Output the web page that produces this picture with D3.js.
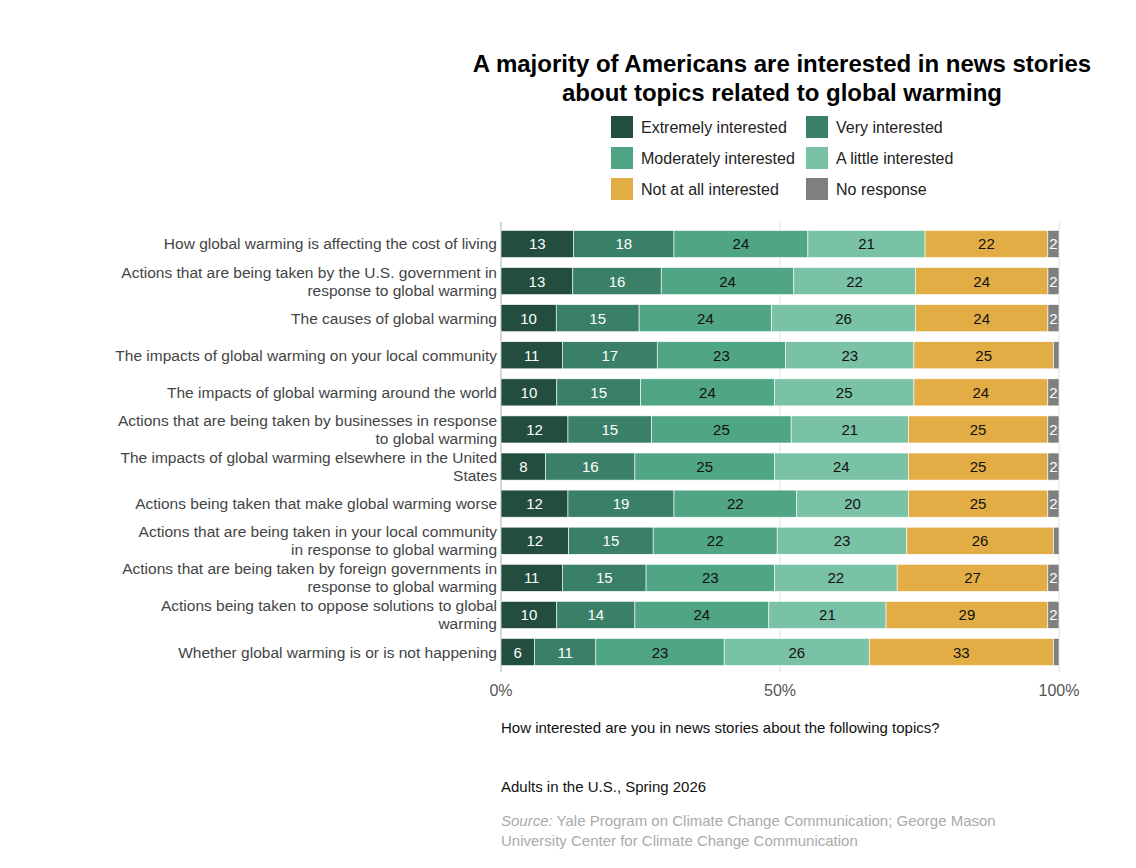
<!DOCTYPE html>
<html><head><meta charset="utf-8">
<script src="https://cdn.jsdelivr.net/npm/d3@7"></script>
<style>body{margin:0;background:#fff;font-family:"Liberation Sans",Arial,sans-serif}</style>
</head><body><svg id="c" width="1136" height="868"></svg>
<script>
const categories = [
 ["How global warming is affecting the cost of living"],
 ["Actions that are being taken by the U.S. government in","response to global warming"],
 ["The causes of global warming"],
 ["The impacts of global warming on your local community"],
 ["The impacts of global warming around the world"],
 ["Actions that are being taken by businesses in response","to global warming"],
 ["The impacts of global warming elsewhere in the United","States"],
 ["Actions being taken that make global warming worse"],
 ["Actions that are being taken in your local community","in response to global warming"],
 ["Actions that are being taken by foreign governments in","response to global warming"],
 ["Actions being taken to oppose solutions to global","warming"],
 ["Whether global warming is or is not happening"]
];
const seriesNames = ["Extremely interested","Very interested","Moderately interested","A little interested","Not at all interested","No response"];
const extremely = [13,13,10,11,10,12,8,12,12,11,10,6];
const very      = [18,16,15,17,15,15,16,19,15,15,14,11];
const moderately= [24,24,24,23,24,25,25,22,22,23,24,23];
const little    = [21,22,26,23,25,21,24,20,23,22,21,26];
const notAtAll  = [22,24,24,25,24,25,25,25,26,27,29,33];
const noResp    = [2,2,2,1,2,2,2,2,1,2,2,1];
const xTicks = [0,50,100];
const colors = ["#234d3e","#3a7f67","#4fa584","#79c2a6","#e3ad45","#7f7f7f"];
const textColors = ["#fff","#fff","#111","#111","#111","#fff"];
const series = [extremely,very,moderately,little,notAtAll,noResp];

const svg = d3.select("#c");
const x = d3.scaleLinear().domain([0,100]).range([501,1059]);
const y = d3.scaleBand().domain(d3.range(categories.length)).range([226,670]).paddingInner(0.27).paddingOuter(0.12);

svg.append("text").attr("x",782).attr("y",72).attr("text-anchor","middle").attr("font-size",24).attr("font-weight","bold").text("A majority of Americans are interested in news stories");
svg.append("text").attr("x",782).attr("y",101).attr("text-anchor","middle").attr("font-size",24).attr("font-weight","bold").text("about topics related to global warming");

seriesNames.forEach((n,i)=>{
  const lx = i%2===0?611:806, ly = 116+Math.floor(i/2)*31;
  svg.append("rect").attr("x",lx).attr("y",ly).attr("width",22).attr("height",22).attr("fill",colors[i]);
  svg.append("text").attr("x",lx+30).attr("y",ly+17).attr("font-size",16).attr("fill","#222").text(n);
});

const g = svg.append("g");
xTicks.forEach(t=>{
  g.append("line").attr("x1",x(t)).attr("x2",x(t)).attr("y1",222).attr("y2",672).attr("stroke","#e0e0e0");
  g.append("text").attr("x",x(t)).attr("y",696).attr("text-anchor","middle").attr("font-size",16).attr("fill","#555").text(t+"%");
});
g.append("line").attr("x1",501).attr("x2",501).attr("y1",222).attr("y2",672).attr("stroke","#bbb");

categories.forEach((c,r)=>{
  const tot = d3.sum(series, s=>s[r]);
  let acc=0;
  const yc = y(r)+y.bandwidth()/2;
  series.forEach((s,i)=>{
    const v=s[r], x0=x(acc/tot*100), x1=x((acc+v)/tot*100);
    acc+=v;
    g.append("rect").attr("x",x0).attr("y",y(r)).attr("width",x1-x0).attr("height",y.bandwidth()).attr("fill",colors[i]).attr("stroke","#fff").attr("stroke-width",0.6);
    if(v>=2) g.append("text").attr("x",(x0+x1)/2).attr("y",yc+5.5).attr("text-anchor","middle").attr("font-size",15).attr("fill",textColors[i]).text(v);
  });
  const lines=c;
  lines.forEach((l,k)=>{
    g.append("text").attr("x",497).attr("y",yc+5.5+(k-(lines.length-1)/2)*18).attr("text-anchor","end").attr("font-size",15.5).attr("fill","#444").text(l);
  });
});

svg.append("text").attr("x",501).attr("y",733).attr("font-size",15).attr("fill","#111").text("How interested are you in news stories about the following topics?");
svg.append("text").attr("x",501).attr("y",792).attr("font-size",15).attr("fill","#111").text("Adults in the U.S., Spring 2026");
const s1=svg.append("text").attr("x",501).attr("y",826).attr("font-size",15).attr("fill","#aaa");
s1.append("tspan").attr("font-style","italic").text("Source:");
s1.append("tspan").text(" Yale Program on Climate Change Communication; George Mason");
svg.append("text").attr("x",501).attr("y",846).attr("font-size",15).attr("fill","#aaa").text("University Center for Climate Change Communication");
</script></body></html>
